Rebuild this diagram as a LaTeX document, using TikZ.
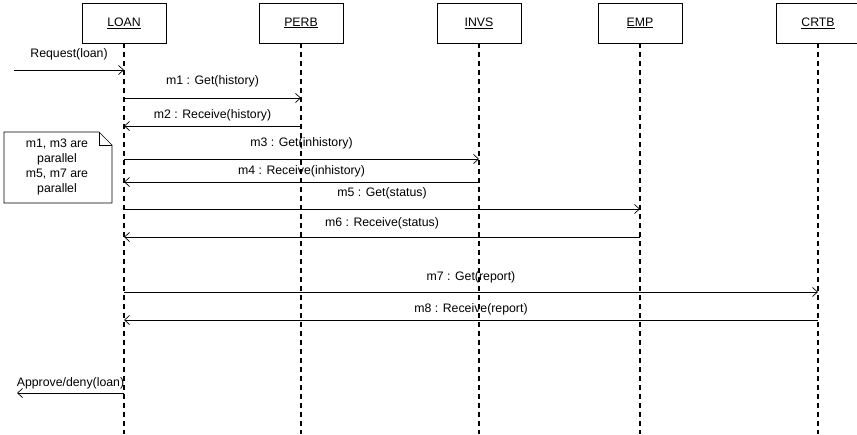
\documentclass[tikz,border=0pt]{standalone}
\usepackage{fontspec}
\setmainfont{Liberation Sans}
\usetikzlibrary{arrows.meta}
\begin{document}
\begin{tikzpicture}[x=1pt,y=-1pt,every node/.style={font=\fontsize{12.3}{14}\selectfont},obj/.style={draw,line width=0.7pt,minimum width=84pt,minimum height=40pt},life/.style={dash pattern=on 5pt off 4pt,line width=1.1pt},msg/.style={-{Straight Barb[length=5pt,width=9pt]},line width=0.7pt}]
\useasboundingbox (0,0) rectangle (857,434);
\node[obj] (loan) at (124,23){\underline{LOAN}};\node[obj] (perb) at (301,23){\underline{PERB}};\node[obj] (invs) at (479,23){\underline{INVS}};\node[obj] (emp) at (640,23){\underline{EMP}};\node[obj] (crtb) at (818,23){\underline{CRTB}};
\coordinate (loanend) at (124,434);\coordinate (perbend) at (301,434);\coordinate (invsend) at (479,434);\coordinate (empend) at (640,434);\coordinate (crtbend) at (818,434);
\draw[life] (loan) -- (loanend);\draw[life] (perb) -- (perbend);\draw[life] (invs) -- (invsend);\draw[life] (emp) -- (empend);\draw[life] (crtb) -- (crtbend);
\coordinate (reqin) at (14,70);\coordinate (apout) at (17,393);
\draw[msg] (reqin) -- (loan |- reqin) node[midway,yshift=16pt]{Request(loan)};
\draw[msg] (loan |- 0,98) -- (perb |- 0,98) node[midway,yshift=17pt]{m1 : Get(history)};
\draw[msg] (perb |- 0,126) -- (loan |- 0,126) node[midway,yshift=11pt]{m2 : Receive(history)};
\draw[msg] (loan |- 0,159) -- (invs |- 0,159) node[midway,yshift=16pt]{m3 : Get(inhistory)};
\draw[msg] (invs |- 0,182) -- (loan |- 0,182) node[midway,yshift=11pt]{m4 : Receive(inhistory)};
\draw[msg] (loan |- 0,209) -- (emp |- 0,209) node[midway,yshift=16pt]{m5 : Get(status)};
\draw[msg] (emp |- 0,237) -- (loan |- 0,237) node[midway,yshift=14pt]{m6 : Receive(status)};
\draw[msg] (loan |- 0,292) -- (crtb |- 0,292) node[midway,yshift=15pt]{m7 : Get(report)};
\draw[msg] (crtb |- 0,320) -- (loan |- 0,320) node[midway,yshift=11pt]{m8 : Receive(report)};
\draw[msg] (loan |- apout) -- (apout) node[midway,yshift=10pt]{Approve/deny(loan)};
\draw[line width=0.7pt] (4,132) -- (99,132) -- (112,145) -- (112,203) -- (4,203) -- cycle;\draw[line width=0.7pt] (99,132) -- (99,145) -- (112,145);
\node[align=center,font=\fontsize{12.3}{15}\selectfont] (note) at (57,167){m1, m3 are\\parallel\\m5, m7 are\\parallel};
\end{tikzpicture}
\end{document}
